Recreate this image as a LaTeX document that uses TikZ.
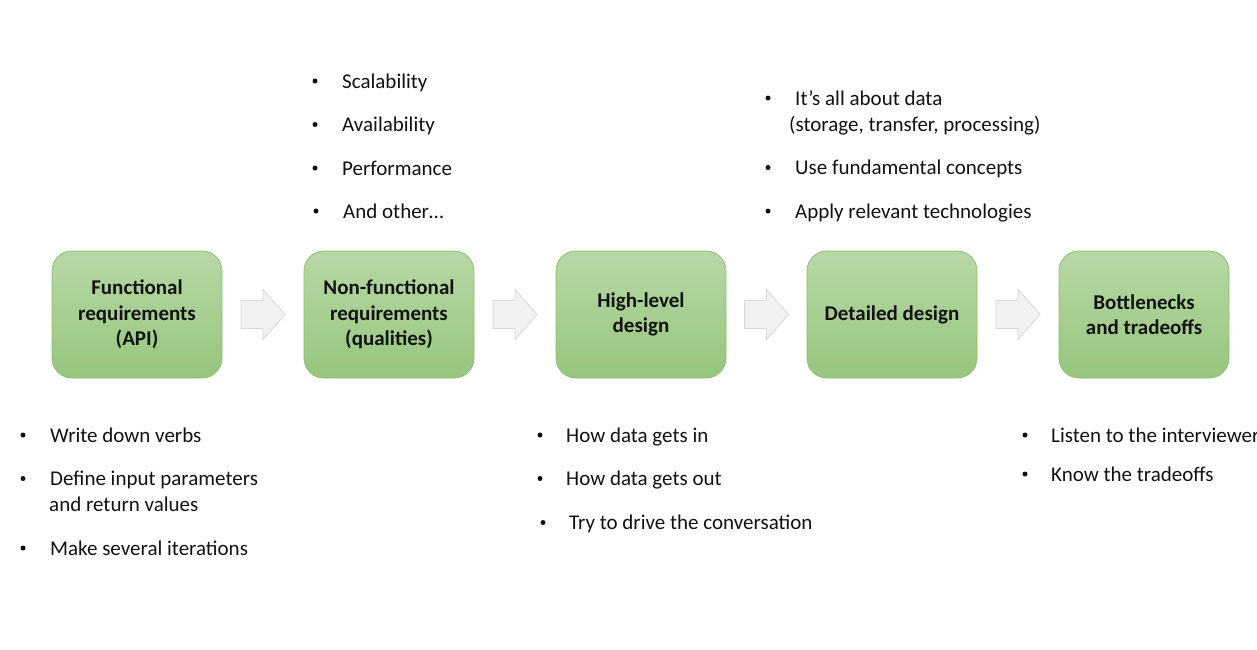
\documentclass[tikz,border=0pt]{standalone}
\usepackage{fontspec}
\setmainfont{Carlito}
\usetikzlibrary{calc}
\definecolor{boxtop}{RGB}{184,216,166}
\definecolor{boxbot}{RGB}{150,198,125}
\definecolor{boxedge}{RGB}{140,190,112}
\definecolor{arrfill}{RGB}{242,242,242}
\definecolor{arredge}{RGB}{214,214,214}
\definecolor{txt}{RGB}{18,18,18}
\tikzset{
  stepbox/.style={rounded corners=20pt, minimum width=170pt, minimum height=127pt,
    top color=boxtop, bottom color=boxbot, draw=boxedge, line width=0.8pt,
    align=center, text=txt, inner sep=2pt,
    font=\bfseries\fontsize{21pt}{25.5pt}\selectfont},
  itemtxt/.style={anchor=base west, inner sep=0pt, text=txt, font=\fontsize{21pt}{25.5pt}\selectfont},
  bul/.style={circle, fill=txt, inner sep=0pt, minimum size=5pt, yshift=7pt},
  blockarr/.style={fill=arrfill, draw=arredge, line width=0.8pt, line join=miter}
}
\newcommand\blockarrow[1]{%
  \draw[blockarr] ($(#1)+(-22,-14)$) -- ($(#1)+(0,-14)$) -- ($(#1)+(0,-25)$) --
    ($(#1)+(22,0)$) -- ($(#1)+(0,25)$) -- ($(#1)+(0,14)$) -- ($(#1)+(-22,14)$) -- cycle;}
\begin{document}
\begin{tikzpicture}[x=1pt,y=-1pt]
\useasboundingbox (0,0) rectangle (1257,649);
\clip (0,0) rectangle (1257,649);
\fill[white] (0,0) rectangle (1257,649);

% boxes
\node[stepbox] (b1) at (137,314.5) {Functional\\requirements\\(API)};
\node[stepbox] (b2) at (389,314.5) {Non-functional\\requirements\\(qualities)};
\node[stepbox] (b3) at (641,314.5) {High-level\\design};
\node[stepbox] (b4) at (892,314.5) {Detailed design};
\node[stepbox] (b5) at (1144,314.5) {Bottlenecks\\and tradeoffs};

% block arrows
\coordinate (m1) at ($(b1.east)!0.5!(b2.west)$);
\coordinate (m2) at ($(b2.east)!0.5!(b3.west)$);
\coordinate (m3) at ($(b3.east)!0.5!(b4.west)$);
\coordinate (m4) at ($(b4.east)!0.5!(b5.west)$);
\blockarrow{m1}
\blockarrow{m2}
\blockarrow{m3}
\blockarrow{m4}

% top of box 2
\node[bul] (p2a) at (315,88) {};  \node[itemtxt] (t2a) at (342,88) {Scalability};
\node[bul] (p2b) at (315,131.5) {}; \node[itemtxt] (t2b) at (342,131.5) {Availability};
\node[bul] (p2c) at (315,175) {}; \node[itemtxt] (t2c) at (342,175) {Performance};
\node[bul] (p2d) at (316,218) {}; \node[itemtxt] (t2d) at (343,218) {And other…};

% top of box 4
\node[bul] (p4a) at (768,105) {}; \node[itemtxt] (t4a) at (795,105) {It’s all about data};
\node[itemtxt] (t4b) at (789,131) {(storage, transfer, processing)};
\node[bul] (p4c) at (768,174.5) {}; \node[itemtxt] (t4c) at (795,174.5) {Use fundamental concepts};
\node[bul] (p4d) at (768,218) {}; \node[itemtxt] (t4d) at (795,218) {Apply relevant technologies};

% below box 1
\node[bul] (p1a) at (23,442) {}; \node[itemtxt] (t1a) at (50,442) {Write down verbs};
\node[bul] (p1b) at (23,485.5) {}; \node[itemtxt] (t1b) at (50,485.5) {Define input parameters};
\node[itemtxt] (t1c) at (49,511) {and return values};
\node[bul] (p1d) at (23,555) {}; \node[itemtxt] (t1d) at (50,555) {Make several iterations};

% below box 3
\node[bul] (p3a) at (540,442) {}; \node[itemtxt] (t3a) at (566,442) {How data gets in};
\node[bul] (p3b) at (540,485.5) {}; \node[itemtxt] (t3b) at (566,485.5) {How data gets out};
\node[bul] (p3c) at (543,529.5) {}; \node[itemtxt] (t3c) at (569,529.5) {Try to drive the conversation};

% below box 5
\node[bul] (p5a) at (1025,442) {}; \node[itemtxt] (t5a) at (1051,442) {Listen to the interviewer};
\node[bul] (p5b) at (1025,481) {}; \node[itemtxt] (t5b) at (1051,481) {Know the tradeoffs};
\end{tikzpicture}
\end{document}
